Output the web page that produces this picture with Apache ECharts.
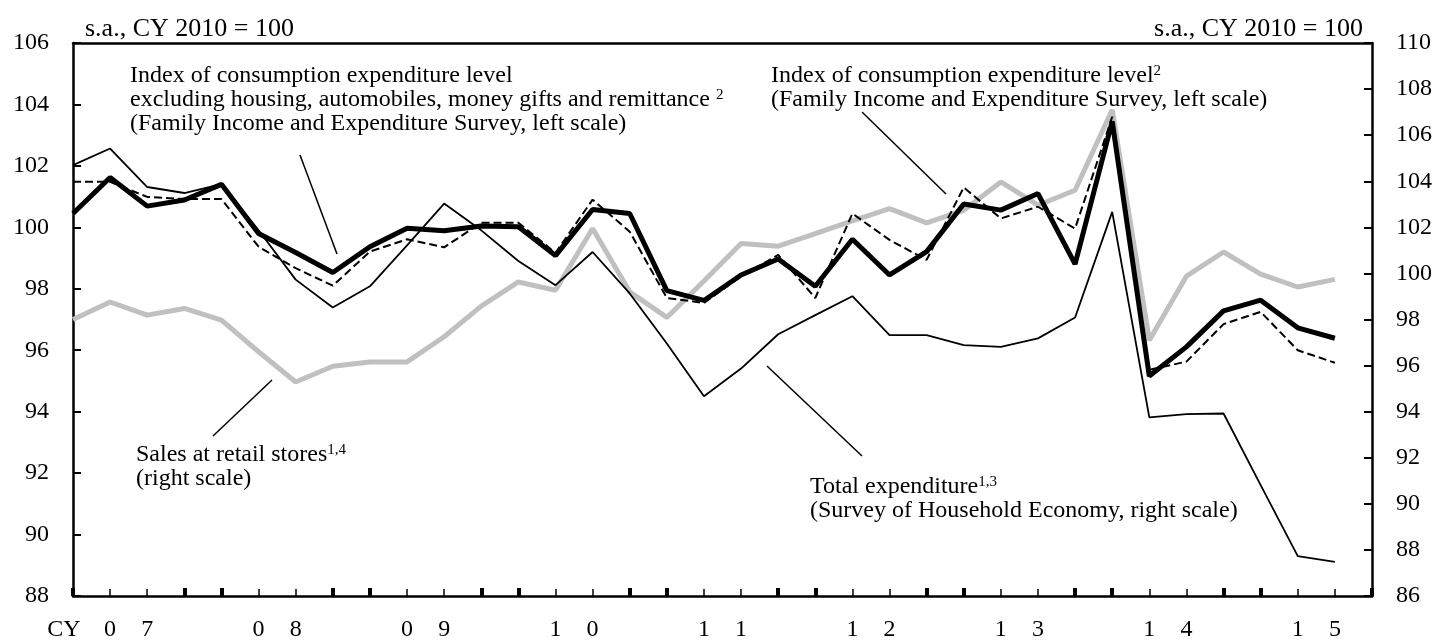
<!DOCTYPE html>
<html lang="en">
<head>
  <meta charset="UTF-8">
  <title>Consumption indicators</title>
  <style>
    html, body { margin: 0; padding: 0; background: #fff; }
    #chart { width: 1438px; height: 642px; }
  </style>
</head>
<body>
  <div id="chart"></div>
  <script src="https://cdn.jsdelivr.net/npm/echarts@6/dist/echarts.min.js"></script>
  <script>
    // quarterly, CY2007 Q1 .. CY2015 Q4 (data runs to 2015 Q3)
    var years = ['07', '08', '09', '10', '11', '12', '13', '14', '15']
    var quarters = []
    years.forEach(function (y) {
      for (var q = 1; q <= 4; q++) quarters.push(y + 'Q' + q)
    })

    // left scale
    var exclHousing = [100.45, 101.62, 100.69, 100.89, 101.4, 99.8, 99.18, 98.53, 99.37, 99.97, 99.89, 100.04,
      100.02, 99.08, 100.58, 100.45, 97.94, 97.62, 98.45, 98.97, 98.08, 99.61, 98.45, 99.21,
      100.76, 100.56, 101.1, 98.8, 103.45, 95.16, 96.11, 97.28, 97.63, 96.73, 96.39]
    var consIndex = [101.48, 101.48, 100.99, 100.92, 100.92, 99.37, 98.67, 98.1, 99.21, 99.61, 99.35, 100.15,
      100.15, 99.17, 100.9, 99.86, 97.7, 97.54, 98.4, 99.1, 97.7, 100.45, 99.59, 98.94,
      101.3, 100.29, 100.67, 99.96, 103.6, 95.36, 95.63, 96.85, 97.25, 96.0, 95.59]
    // right scale
    var totalExp = [104.7, 105.42, 103.75, 103.49, 103.87, 101.87, 99.73, 98.52, 99.44, 101.22, 103.03, 101.87,
      100.54, 99.49, 100.93, 99.13, 96.96, 94.67, 95.87, 97.36, 98.19, 99.01, 97.32, 97.32,
      96.89, 96.81, 97.18, 98.09, 102.67, 93.75, 93.89, 93.92, 90.81, 87.73, 87.48]
    var retailSales = [98.0, 98.76, 98.19, 98.48, 97.97, 96.6, 95.29, 95.97, 96.16, 96.16, 97.25, 98.58,
      99.63, 99.27, 101.95, 99.2, 98.09, 99.67, 101.3, 101.18, 101.73, 102.28, 102.81, 102.19,
      102.74, 103.97, 102.96, 103.61, 107.1, 97.1, 99.88, 100.93, 99.97, 99.41, 99.74]

    var serif = "'Liberation Serif', 'Times New Roman', serif"

    function note(x, y, text) {
      return {
        type: 'text', x: x, y: y,
        style: {
          text: text, fill: '#000', font: '24px ' + serif, lineHeight: 24,
          align: 'left', verticalAlign: 'top',
          rich: {
            sup: { fontSize: 15, fontFamily: serif, verticalAlign: 'top', lineHeight: 15 }
          }
        }
      }
    }
    function leader(x1, y1, x2, y2) {
      return { type: 'line', shape: { x1: x1, y1: y1, x2: x2, y2: y2 }, style: { stroke: '#000', lineWidth: 1.5 } }
    }

    var chart = echarts.init(document.getElementById('chart'))
    var option = {
      animation: false,
      backgroundColor: '#fff',
      grid: { left: 73, right: 66, top: 43, bottom: 46 },
      xAxis: [
        {
          type: 'category', data: quarters, boundaryGap: false, position: 'bottom',
          axisLine: { lineStyle: { color: '#000', width: 2.5 } },
          axisTick: { inside: true, length: 7, interval: 0, lineStyle: { color: '#000', width: 1.5 } },
          axisLabel: {
            interval: 0, margin: 22, fontSize: 24, fontFamily: serif, color: '#000',
            formatter: function (v) {
              var q = v.slice(-1)
              if (q === '2') return v[0]
              if (q === '3') return v[1]
              return ''
            }
          },
          splitLine: { show: false }
        },
        {
          // heavier ticks at Q1 and Q4
          type: 'category', data: quarters, boundaryGap: false, position: 'bottom',
          axisLine: { show: false }, axisLabel: { show: false }, splitLine: { show: false },
          axisTick: {
            inside: true, length: 8,
            interval: function (i) { return i % 4 === 0 || i % 4 === 3 },
            lineStyle: { color: '#000', width: 4 }
          }
        },
        {
          type: 'category', data: quarters, boundaryGap: false, position: 'top',
          axisLine: { lineStyle: { color: '#000', width: 2.5 } },
          axisTick: { show: false }, axisLabel: { show: false }, splitLine: { show: false }
        }
      ],
      yAxis: [
        {
          type: 'value', min: 88, max: 106, interval: 2, position: 'left',
          axisLine: { show: true, lineStyle: { color: '#000', width: 2.5 } },
          axisTick: { show: true, inside: true, length: 8, lineStyle: { color: '#000', width: 2 } },
          axisLabel: { margin: 24, fontSize: 24, fontFamily: serif, color: '#000' },
          splitLine: { show: false }
        },
        {
          type: 'value', min: 86, max: 110, interval: 2, position: 'right',
          axisLine: { show: true, lineStyle: { color: '#000', width: 2.5 } },
          axisTick: { show: true, inside: true, length: 8, lineStyle: { color: '#000', width: 2 } },
          axisLabel: { margin: 24, fontSize: 24, fontFamily: serif, color: '#000' },
          splitLine: { show: false }
        }
      ],
      series: [
        {
          name: 'Sales at retail stores', type: 'line', yAxisIndex: 1, data: retailSales,
          symbol: 'none', lineStyle: { color: '#c0c0c0', width: 5 }, z: 2
        },
        {
          name: 'Total expenditure', type: 'line', yAxisIndex: 1, data: totalExp,
          symbol: 'none', lineStyle: { color: '#000', width: 1.8 }, z: 3
        },
        {
          name: 'Index of consumption expenditure level', type: 'line', yAxisIndex: 0, data: consIndex,
          symbol: 'none', lineStyle: { color: '#000', width: 2, type: [8, 4] }, z: 4
        },
        {
          name: 'Index excl. housing, automobiles, money gifts and remittance', type: 'line', yAxisIndex: 0,
          data: exclHousing, symbol: 'none', lineStyle: { color: '#000', width: 5 }, z: 5
        }
      ],
      graphic: [
        { type: 'text', x: 85, y: 29, style: { text: 's.a., CY 2010 = 100', font: '26px ' + serif, fill: '#000', align: 'left', verticalAlign: 'middle' } },
        { type: 'text', x: 1363, y: 29, style: { text: 's.a., CY 2010 = 100', font: '26px ' + serif, fill: '#000', align: 'right', verticalAlign: 'middle' } },
        { type: 'text', x: 64, y: 630, style: { text: 'CY', font: '24px ' + serif, fill: '#000', align: 'center', verticalAlign: 'middle' } },
        note(130, 64, 'Index of consumption expenditure level\nexcluding housing, automobiles, money gifts and remittance {sup|2}\n(Family Income and Expenditure Survey, left scale)'),
        note(771, 64, 'Index of consumption expenditure level{sup|2}\n(Family Income and Expenditure Survey, left scale)'),
        note(136, 443, 'Sales at retail stores{sup|1,4}\n(right scale)'),
        note(810, 475, 'Total expenditure{sup|1,3}\n(Survey of Household Economy, right scale)'),
        leader(300, 155, 337, 254),
        leader(862, 112, 946, 194),
        leader(272, 380, 213, 436),
        leader(767, 366, 862, 456)
      ]
    }
    chart.setOption(option)
  </script>
</body>
</html>
